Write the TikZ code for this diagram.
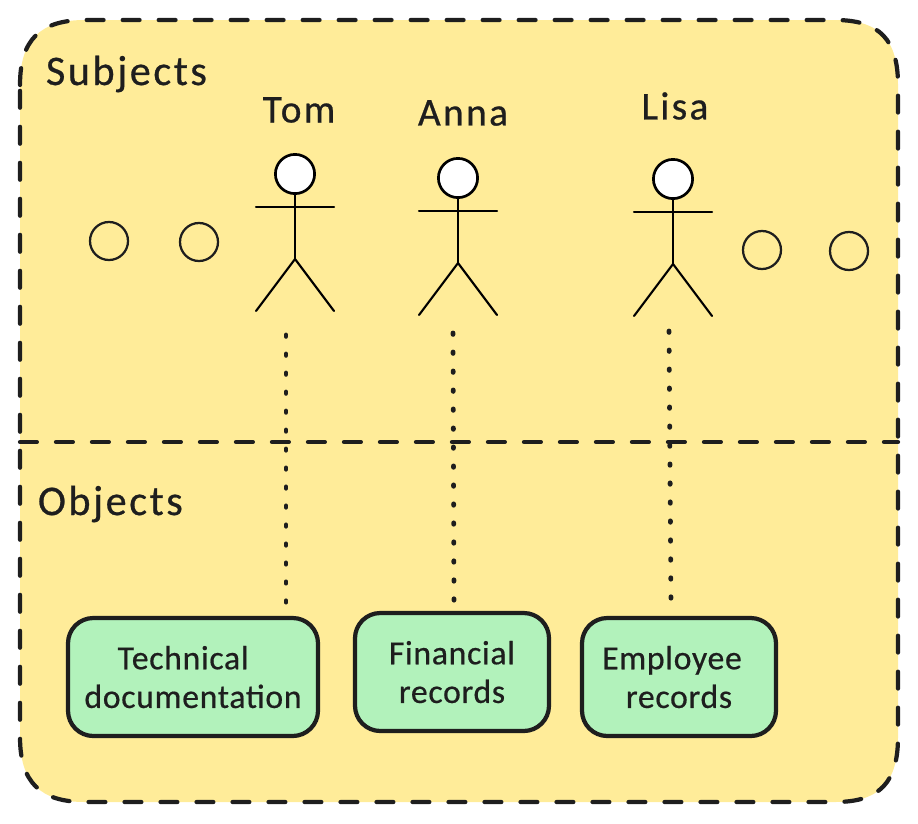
\documentclass[tikz,border=0pt]{standalone}
\usepackage{fontspec}
\setmainfont{Carlito}
\newfontfamily\titlefont[LetterSpace=6,FakeBold=0.6]{Carlito}
\newfontfamily\boxfont[LetterSpace=2,FakeBold=0.5]{Carlito}
\definecolor{bgyellow}{HTML}{FFEC99}
\definecolor{boxgreen}{HTML}{B2F2BB}
\definecolor{inkdark}{HTML}{1E1E1E}
\tikzset{
    region/.style={draw=inkdark, line width=3pt, line cap=round, dash pattern=on 12pt off 13.6pt},
    link/.style={draw=inkdark, line width=3.4pt, line cap=round, dash pattern=on 1pt off 12.5pt},
    limb/.style={draw=black, line width=1.5pt, line cap=round},
    heading/.style={text=inkdark, font=\titlefont\fontsize{30}{32}\selectfont},
    person name/.style={text=inkdark, font=\titlefont\fontsize{28}{30}\selectfont},
    objbox/.style={draw=inkdark, line width=3pt, fill=boxgreen, rounded corners=18pt, align=center, text=inkdark, font=\boxfont\fontsize{24}{27.5}\selectfont, inner sep=0pt, minimum height=118*0.025cm},
    head/.style={circle, draw=black, line width=1.9pt, fill=white, inner sep=0pt, minimum size=0.98cm},
    blob/.style={circle, draw=inkdark, line width=1.6pt, inner sep=0pt, minimum size=0.95cm}
}
\newcommand{\person}[5]{
    \node[head] (#1) at (#2,#3) {};
    \coordinate (#1hip) at (#2,#3+85);
    \draw[limb] (#1.south) -- (#1hip);
    \draw[limb] (#2-39,#3+33) -- (#2+39,#3+33);
    \draw[limb] (#2-39,#3+137) -- (#1hip) -- (#2+39,#3+137);
    \node[person name] (#1name) at (#4,#5) {#1};
}
\begin{document}
\begin{tikzpicture}[x=0.025cm, y=-0.025cm]
    \useasboundingbox (0,0) rectangle (918,823);
    \draw[region, fill=bgyellow] (20,85) .. controls (20,40) and (40,20) .. (85,20) -- (835,20) .. controls (880,20) and (898,40) .. (898,85) -- (898,737) .. controls (898,782) and (880,802) .. (835,802) -- (85,802) .. controls (40,802) and (20,782) .. (20,737) -- cycle;
    \coordinate (splitl) at (20,442);
    \coordinate (splitr) at (898,442);
    \draw[region] (splitl) -- (splitr);
    \node[heading, anchor=west] (subjects) at (41,74) {Subjects};
    \node[heading, anchor=west] (objects) at (33,504) {Objects};
    \person{Tom}{295}{174}{299}{110}
    \person{Anna}{458}{178}{463}{113}
    \person{Lisa}{673}{179}{675}{106}
    \foreach \x/\y/\n in {109/241/a, 199/242/b, 762/250/c, 849/251/d}
        \node[blob] (blob\n) at (\x,\y) {};
    \node[objbox, minimum width=250*0.025cm, text width=6cm] (tech) at (193,677) {Technical\kern 14pt\\documentation};
    \node[objbox, minimum width=194*0.025cm, text width=4.6cm] (fin) at (452,672) {Financial\\records};
    \node[objbox, minimum width=194*0.025cm, text width=4.6cm] (emp) at (679,677) {Employee\kern 10pt\\records};
    \coordinate (tomlink) at (286,335);
    \coordinate (annalink) at (453,333);
    \coordinate (lisalink) at (669,331);
    \draw[link] (tomlink) -- (286,606);
    \draw[link] (annalink) -- (454,604);
    \draw[link] (lisalink) -- (671,604);
\end{tikzpicture}
\end{document}
